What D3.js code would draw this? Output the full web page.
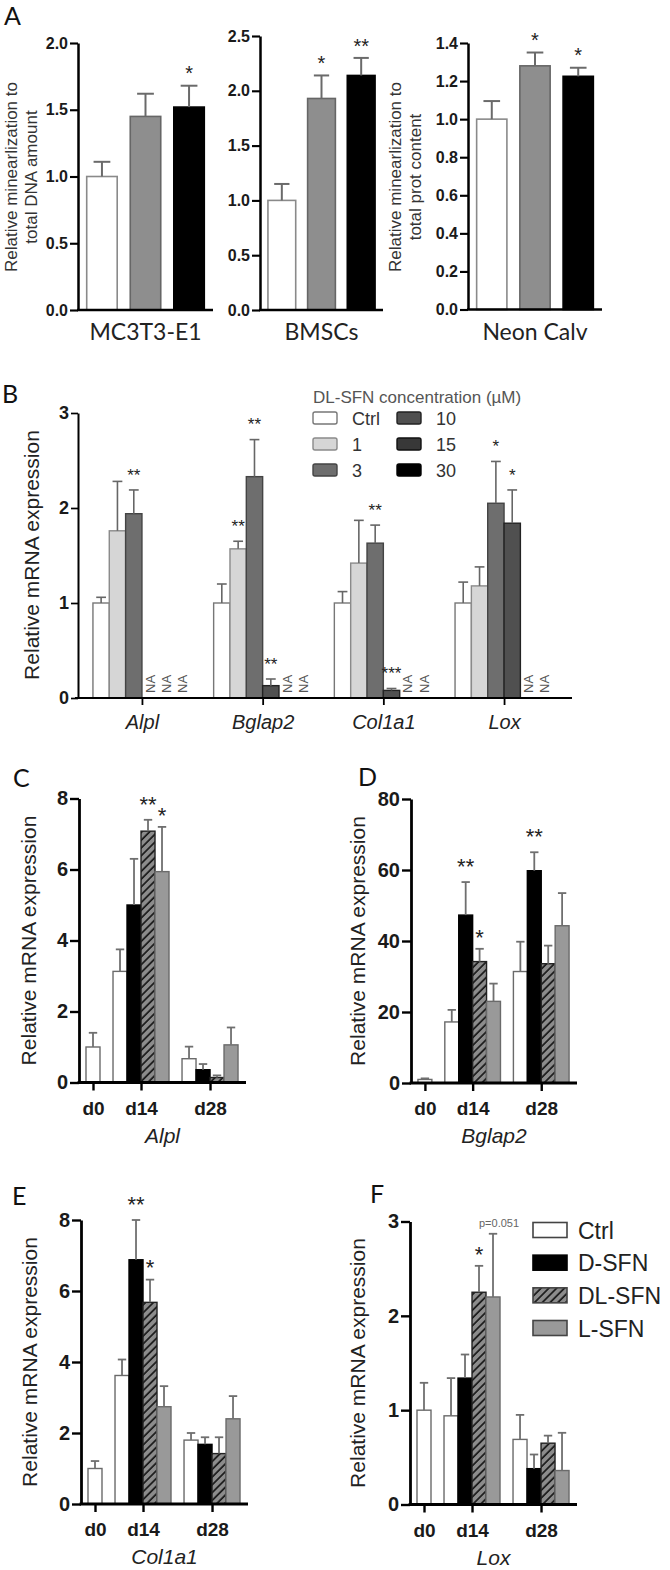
<!DOCTYPE html>
<html><head><meta charset="utf-8">
<script src="https://cdn.jsdelivr.net/npm/d3@7"></script>
<style>body{margin:0;background:#fff}svg{display:block}</style>
</head><body><script>
// ================= DATA =================
// Panel A
const aCellLines = ["MC3T3-E1","BMSCs","Neon Calv"];
const aConditions = ["Ctrl","Treat1","Treat2"];
const aMC3T3Mean = [1.00, 1.45, 1.52];
const aMC3T3Sem  = [0.11, 0.17, 0.16];
const aBMSCMean  = [1.00, 1.93, 2.14];
const aBMSCSem   = [0.15, 0.21, 0.16];
const aNeonMean  = [1.00, 1.28, 1.225];
const aNeonSem   = [0.095, 0.07, 0.045];
const aMC3T3Stars = ["","","*"];
const aBMSCStars  = ["","*","**"];
const aNeonStars  = ["","*","*"];
const aMC3T3Ticks = [0,0.5,1.0,1.5,2.0];
const aBMSCTicks  = [0,0.5,1.0,1.5,2.0,2.5];
const aNeonTicks  = [0,0.2,0.4,0.6,0.8,1.0,1.2,1.4];
const aYTitle1 = ["Relative minearlization to","total DNA amount"];
const aYTitle3 = ["Relative minearlization to","total prot content"];

// Panel B
const bGenes = ["Alpl","Bglap2","Col1a1","Lox"];
const bConcs = ["Ctrl","1","3","10","15","30"];
const bCtrlMean = [1.00,1.00,1.00,1.00];  const bCtrlSem = [0.06,0.20,0.12,0.22];
const b1Mean    = [1.76,1.57,1.42,1.18];  const b1Sem    = [0.52,0.08,0.45,0.20];
const b3Mean    = [1.94,2.33,1.63,2.05];  const b3Sem    = [0.25,0.39,0.19,0.44];
const b10Mean   = [null,0.13,0.08,1.84];  const b10Sem   = [null,0.07,0.02,0.35];
const b15Mean   = [null,null,null,null];  const b15Sem   = [null,null,null,null];
const b30Mean   = [null,null,null,null];  const b30Sem   = [null,null,null,null];
const bCtrlStars = ["","","",""];
const b1Stars    = ["","**","",""];
const b3Stars    = ["**","**","**","*"];
const b10Stars   = ["","**","***","*"];
const b15Stars   = ["","","",""];
const b30Stars   = ["","","",""];
const bTicks = [0,1,2,3];
const bLegendTitle = "DL-SFN concentration (\u00b5M)";
const bNA = "NA";

// Panels C-F (rows: time point, columns: treatment)
const timePoints = ["d0","d14","d28"];
const treatments = ["Ctrl","D-SFN","DL-SFN","L-SFN"];
const alplMean  = [[1.00,null,null,null],[3.13,5.00,7.08,5.94],[0.67,0.36,0.14,1.06]];
const alplSem   = [[0.40,null,null,null],[0.62,1.30,0.32,1.26],[0.34,0.16,0.06,0.49]];
const alplStars = [["","","",""],["","","**","*"],["","","",""]];
const alplTicks = [0,2,4,6,8];
const bglapMean  = [[1.0,null,null,null],[17.2,47.3,34.2,23.0],[31.4,59.8,33.6,44.3]];
const bglapSem   = [[0.3,null,null,null],[3.4,9.3,3.6,5.0],[8.4,5.2,5.1,9.2]];
const bglapStars = [["","","",""],["","**","*",""],["","**","",""]];
const bglapTicks = [0,20,40,60,80];
const colMean  = [[1.00,null,null,null],[3.62,6.88,5.68,2.74],[1.80,1.68,1.42,2.40]];
const colSem   = [[0.21,null,null,null],[0.45,1.12,0.64,0.58],[0.20,0.20,0.46,0.64]];
const colStars = [["","","",""],["","**","*",""],["","","",""]];
const colTicks = [0,2,4,6,8];
const loxMean  = [[1.00,null,null,null],[0.94,1.34,2.25,2.20],[0.69,0.38,0.65,0.36]];
const loxSem   = [[0.29,null,null,null],[0.40,0.25,0.28,0.67],[0.26,0.15,0.08,0.40]];
const loxStars = [["","","",""],["","","*",""],["","","",""]];
const loxTicks = [0,1,2,3];
const loxNote = "p=0.051";
const yTitle = "Relative mRNA expression";

// ================= STYLE =================
const FONT = "'Liberation Sans', Arial, Helvetica, sans-serif";
const FONT2 = "Lato, 'Open Sans', sans-serif";
const aFill = ["#ffffff","#8e8e8e","#000000"];
const aStroke = ["#8a8a8a","#666666","#000000"];
const bFill = {"Ctrl":"#ffffff","1":"#d6d6d6","3":"#6e6e6e","10":"#505050","15":"#383838","30":"#000000"};
const bStroke = {"Ctrl":"#777","1":"#8a8a8a","3":"#444","10":"#222","15":"#111","30":"#000"};
const tFill = {"Ctrl":"#ffffff","D-SFN":"#000000","DL-SFN":"url(#hatch)","L-SFN":"#999999"};
const tStroke = {"Ctrl":"#6a6a6a","D-SFN":"#000","DL-SFN":"#222","L-SFN":"#6a6a6a"};

const svg = d3.select("body").append("svg").attr("width",670).attr("height",1570);
svg.append("rect").attr("width",670).attr("height",1570).attr("fill","#fff");
const defs = svg.append("defs");
const hatch = defs.append("pattern").attr("id","hatch").attr("patternUnits","userSpaceOnUse")
  .attr("width",5.5).attr("height",5.5).attr("patternTransform","rotate(45)");
hatch.append("rect").attr("width",5.5).attr("height",5.5).attr("fill","#8c8c8c");
hatch.append("line").attr("x1",1).attr("y1",-1).attr("x2",1).attr("y2",7).attr("stroke","#111").attr("stroke-width",1.6);

// ================= HELPERS =================
function rotText(x, y, txt, size, o={}) {
  return svg.append("text").attr("transform",`translate(${x},${y}) rotate(-90)`)
    .attr("text-anchor", o.anchor||"middle").attr("font-family", o.family||FONT)
    .attr("font-size", size).attr("fill", o.fill||"#222").attr("font-style", o.style||null).text(txt);
}
function txt(x, y, t, size, o={}) {
  return svg.append("text").attr("x",x).attr("y",y).attr("text-anchor", o.anchor||"middle")
    .attr("font-family", o.family||FONT).attr("font-size", size).attr("fill", o.fill||"#222")
    .attr("font-weight", o.weight||null).attr("font-style", o.style||null).text(t);
}
function yAxisAt(x, y, ticks, fmt, fs, sw, tl) {
  const g = svg.append("g").attr("transform",`translate(${x},0)`)
    .call(d3.axisLeft(y).tickValues(ticks).tickFormat(fmt).tickSize(tl).tickSizeOuter(0).tickPadding(2));
  g.select(".domain").attr("stroke","#000").attr("stroke-width",sw);
  g.selectAll(".tick line").attr("stroke","#000").attr("stroke-width",sw*0.85);
  g.selectAll(".tick text").attr("font-family",FONT).attr("font-weight","bold").attr("font-size",fs).attr("fill","#1a1a1a");
  return g;
}
function drawBars(rows, y, o) {
  const g = svg.append("g");
  g.selectAll("rect").data(rows).join("rect")
    .attr("x",d=>d.xl).attr("width",d=>d.w)
    .attr("y",d=>y(d.mean)).attr("height",d=>Math.max(0,y(0)-y(d.mean)))
    .attr("fill",d=>d.fill).attr("stroke",d=>d.stroke).attr("stroke-width",o.bsw);
  const er = rows.filter(d=>d.sem>0);
  g.selectAll("line.ev").data(er).join("line").attr("class","ev")
    .attr("x1",d=>d.xl+d.w/2).attr("x2",d=>d.xl+d.w/2)
    .attr("y1",d=>y(d.mean)).attr("y2",d=>y(d.mean+d.sem))
    .attr("stroke",o.ec).attr("stroke-width",o.ew);
  g.selectAll("line.ec").data(er).join("line").attr("class","ec")
    .attr("x1",d=>d.xl+d.w/2-d.w*o.cap/2).attr("x2",d=>d.xl+d.w/2+d.w*o.cap/2)
    .attr("y1",d=>y(d.mean+d.sem)).attr("y2",d=>y(d.mean+d.sem))
    .attr("stroke",o.ec).attr("stroke-width",o.ew);
  g.selectAll("text.st").data(rows.filter(d=>d.star)).join("text").attr("class","st")
    .attr("x",d=>d.xl+d.w/2)
    .attr("y",d=>y(d.mean+(d.sem||0)) - (o.soff + (o.sstep||0)*(d.star.length-1)) + 0.58*o.sfs)
    .attr("text-anchor","middle").attr("font-family",FONT).attr("font-size",o.sfs).attr("fill","#222")
    .text(d=>d.star);
}
function letter(x,y,t){ txt(x,y,t,25,{anchor:"start",family:FONT2,fill:"#111"}); }

// ================= PANEL A =================
letter(4,25,"A");
const aCfg = [
  {axisX:78, axisEnd:213, y0:310, yTop:43, mean:aMC3T3Mean, sem:aMC3T3Sem, stars:aMC3T3Stars, ticks:aMC3T3Ticks, title:aYTitle1, tx:[17,37]},
  {axisX:260, axisEnd:383, y0:310, yTop:36, mean:aBMSCMean, sem:aBMSCSem, stars:aBMSCStars, ticks:aBMSCTicks, title:null, tx:null},
  {axisX:468, axisEnd:602, y0:309.5, yTop:43, mean:aNeonMean, sem:aNeonSem, stars:aNeonStars, ticks:aNeonTicks, title:aYTitle3, tx:[401,421]}
];
aCfg.forEach((c,ci)=>{
  const y = d3.scaleLinear().domain([0,d3.max(c.ticks)]).range([c.y0,c.yTop]);
  const x = d3.scaleBand().domain(aConditions).range([c.axisX,c.axisEnd]).paddingInner(0.3).paddingOuter(0.2);
  const rows = aConditions.map((k,i)=>({xl:x(k), w:x.bandwidth(), mean:c.mean[i], sem:c.sem[i], star:c.stars[i], fill:aFill[i], stroke:aStroke[i]}));
  drawBars(rows, y, {bsw:1.6, ec:"#6a6a6a", ew:2, cap:0.55, soff:17, sfs:20});
  yAxisAt(c.axisX, y, c.ticks, d3.format(".1f"), 16, 2.5, 8);
  svg.append("line").attr("x1",c.axisX-1).attr("x2",c.axisEnd).attr("y1",c.y0).attr("y2",c.y0).attr("stroke","#000").attr("stroke-width",2.5);
  txt((c.axisX+c.axisEnd)/2, 340, aCellLines[ci], 23, {family:FONT2, fill:"#222"});
  if (c.title) c.title.forEach((t,i)=>rotText(c.tx[i], 177, t, 17, {fill:"#333"}));
});

// ================= PANEL B =================
letter(2,403,"B");
{
  const y = d3.scaleLinear().domain([0,3]).range([698,413]);
  const x0 = d3.scaleBand().domain(bGenes).range([81.6,564.4]).paddingInner(0.188).paddingOuter(0.094);
  const x1 = d3.scaleBand().domain(bConcs).range([0,x0.bandwidth()]);
  const means = [bCtrlMean,b1Mean,b3Mean,b10Mean,b15Mean,b30Mean];
  const sems  = [bCtrlSem,b1Sem,b3Sem,b10Sem,b15Sem,b30Sem];
  const stars = [bCtrlStars,b1Stars,b3Stars,b10Stars,b15Stars,b30Stars];
  const all = bGenes.flatMap((g,gi)=>bConcs.map((c,ci)=>({gene:g, conc:c, xl:x0(g)+x1(c), w:x1.bandwidth(),
      mean:means[ci][gi], sem:sems[ci][gi], star:stars[ci][gi], fill:bFill[c], stroke:bStroke[c]})));
  const rows = all.filter(d=>d.mean!=null);
  drawBars(rows, y, {bsw:1.4, ec:"#666", ew:1.6, cap:0.6, soff:19, sfs:17});
  all.filter(d=>d.mean==null).forEach(d=>{
    rotText(d.xl+d.w/2+4.5, 693, bNA, 13, {anchor:"start", fill:"#555"});
  });
  yAxisAt(78, y, bTicks, d3.format("d"), 18, 2, 7);
  svg.append("line").attr("x1",75).attr("x2",572).attr("y1",698).attr("y2",698).attr("stroke","#000").attr("stroke-width",2);
  const xo = d3.scaleOrdinal().domain(bGenes).range(bGenes.map(g=>x0(g)+x0.bandwidth()/2));
  const gx = svg.append("g").attr("transform","translate(0,698)").call(d3.axisBottom(xo).tickSize(7).tickSizeOuter(0));
  gx.select(".domain").remove();
  gx.selectAll(".tick line").attr("stroke","#000").attr("stroke-width",1.8);
  gx.selectAll(".tick text").attr("y",31).attr("dy",null).attr("font-family",FONT).attr("font-style","italic")
    .attr("font-size",20).attr("fill","#222");
  rotText(39, 555, yTitle, 21, {fill:"#222"});
  // legend
  txt(313, 403, bLegendTitle, 17, {anchor:"start", fill:"#555"});
  const ly = d3.scalePoint().domain([0,1,2]).range([418,470]);
  const lx = d3.scalePoint().domain([0,1]).range([313,397]);
  bConcs.forEach((c,i)=>{
    const col = Math.floor(i/3), row = i%3;
    svg.append("rect").attr("x",lx(col)).attr("y",ly(row)-6).attr("width",24).attr("height",12)
      .attr("rx",2).attr("fill",bFill[c]).attr("stroke",bStroke[c]).attr("stroke-width",1.4);
    txt(lx(col)+39, ly(row)+6.5, c, 18, {anchor:"start", fill:"#333"});
  });
}

// ================= PANELS C-F =================
function timePanel(c) {
  letter(c.lx, c.ly, c.letter);
  const y = d3.scaleLinear().domain([0,d3.max(c.ticks)]).range([c.y0,c.yTop]);
  const PAD_L=0.5, GAP=0.93, PAD_R=0.57;
  let u = PAD_L; const centers=[]; const bars=[];
  timePoints.forEach((tp,ti)=>{
    const present = treatments.map((t,k)=>k).filter(k=>c.mean[ti][k]!=null);
    const start=u;
    present.forEach((k,j)=>bars.push({u0:start+j, k, mean:c.mean[ti][k], sem:c.sem[ti][k], star:c.stars[ti][k],
      fill:tFill[treatments[k]], stroke:tStroke[treatments[k]], note:(c.note&&c.note.ti===ti&&c.note.k===k)?c.note.text:null}));
    u += present.length;
    centers.push((start+u)/2);
    if (ti<timePoints.length-1) u+=GAP;
  });
  u += PAD_R;
  const x = d3.scaleLinear().domain([0,u]).range([c.axisX,c.axisEnd]);
  const bw = x(1)-x(0);
  bars.forEach(b=>{b.xl=x(b.u0); b.w=bw;});
  drawBars(bars, y, {bsw:1.4, ec:"#6f6f6f", ew:1.8, cap:0.6, soff:17, sstep:4, sfs:22});
  bars.filter(b=>b.note).forEach(b=>{
    txt(b.xl+b.w/2+6, y(b.mean+b.sem)-7, b.note, 11, {fill:"#666"});
  });
  yAxisAt(c.axisX, y, c.ticks, d3.format("d"), 20, 2.8, 9);
  svg.append("line").attr("x1",c.axisX-1.4).attr("x2",c.axisEnd).attr("y1",c.y0).attr("y2",c.y0).attr("stroke","#000").attr("stroke-width",2.8);
  const xo = d3.scaleOrdinal().domain(timePoints).range(centers.map(v=>x(v)));
  const gx = svg.append("g").attr("transform",`translate(0,${c.y0})`).call(d3.axisBottom(xo).tickSize(8).tickSizeOuter(0));
  gx.select(".domain").remove();
  gx.selectAll(".tick line").attr("stroke","#000").attr("stroke-width",2.4);
  gx.selectAll(".tick text").attr("y",32).attr("dy",null).attr("font-family",FONT).attr("font-weight","bold")
    .attr("font-size",19).attr("fill","#1a1a1a");
  txt((c.axisX+c.axisEnd)/2, c.y0+60, c.gene, 21, {style:"italic", fill:"#222"});
  rotText(c.tx, (c.y0+c.yTop)/2, yTitle, 21, {fill:"#222"});
}
timePanel({letter:"C", lx:13, ly:787, axisX:79, axisEnd:246, y0:1082.5, yTop:798.5, ticks:alplTicks,
  mean:alplMean, sem:alplSem, stars:alplStars, gene:"Alpl", tx:36});
timePanel({letter:"D", lx:358, ly:786, axisX:411, axisEnd:577, y0:1083, yTop:799, ticks:bglapTicks,
  mean:bglapMean, sem:bglapSem, stars:bglapStars, gene:"Bglap2", tx:365});
timePanel({letter:"E", lx:12, ly:1205, axisX:81, axisEnd:248, y0:1504, yTop:1220, ticks:colTicks,
  mean:colMean, sem:colSem, stars:colStars, gene:"Col1a1", tx:37});
timePanel({letter:"F", lx:370, ly:1203, axisX:410, axisEnd:577, y0:1504.5, yTop:1221.5, ticks:loxTicks,
  mean:loxMean, sem:loxSem, stars:loxStars, gene:"Lox", tx:365,
  note:{ti:1, k:3, text:loxNote}});

// Legend F
{
  const ly = d3.scalePoint().domain(treatments).range([1230,1328]);
  treatments.forEach(t=>{
    svg.append("rect").attr("x",533).attr("y",ly(t)-7.5).attr("width",34).attr("height",15)
      .attr("fill",tFill[t]).attr("stroke",t==="D-SFN"?"#000":"#444").attr("stroke-width",1.6);
    txt(578, ly(t)+8.5, t, 23, {anchor:"start", fill:"#222"});
  });
}
</script></body></html>
